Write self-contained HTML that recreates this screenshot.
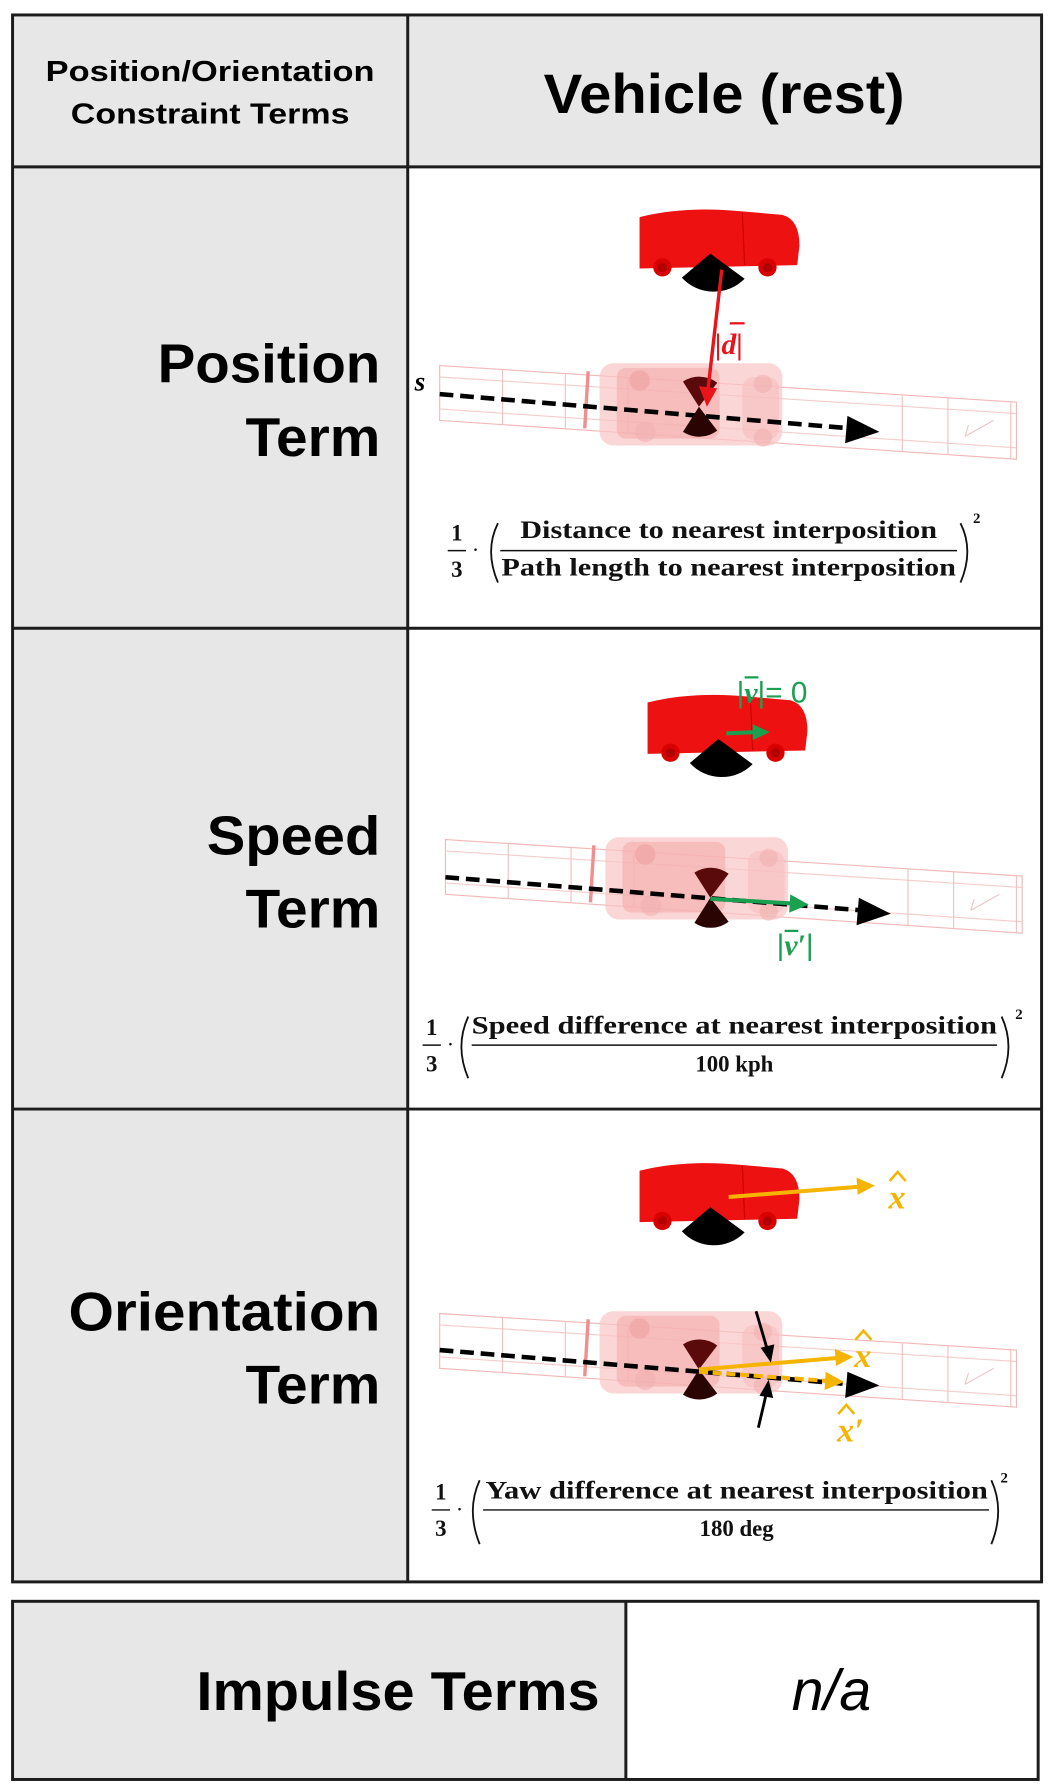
<!DOCTYPE html>
<html><head><meta charset="utf-8"><style>
html,body{margin:0;padding:0;background:#fff;width:1053px;height:1791px;overflow:hidden}
svg{display:block}
.h{font-family:"Liberation Sans",sans-serif;font-weight:bold;fill:#000}
.f{font-family:"Liberation Serif",serif;font-weight:bold;fill:#111}
</style></head><body>
<svg width="1053" height="1791" viewBox="0 0 922 1568" xmlns="http://www.w3.org/2000/svg">
<defs>
<g id="road">
  <path d="M385,320 L890,352 L890,402 L385,368 Z" fill="#fff" stroke="#f2b8b8" stroke-width="1"/>
  <path d="M385,330 L890,362 M385,358 L890,392" stroke="#f6cccc" stroke-width="1"/>
  <path d="M440,323 L440,372 M495,327 L495,375 M550,330 L550,379 M790,346 L790,395 M830,348 L830,398 M885,352 L885,402" stroke="#f2c0c0" stroke-width="1"/>
  <path d="M845,382 L870,368 M845,382 L848,372" stroke="#e8c8c8" stroke-width="1" fill="none"/>
</g>
<g id="ghost">
  <rect x="525" y="318" width="160" height="72" rx="12" fill="#f9c4c4" opacity="0.7"/>
  <rect x="540" y="322" width="90" height="62" rx="8" fill="#f4a8a8" opacity="0.55"/>
  <rect x="650" y="330" width="32" height="55" rx="10" fill="#f7bcbc" opacity="0.6"/>
  <circle cx="560" cy="333" r="9" fill="#eea0a0" opacity="0.6"/>
  <circle cx="565" cy="378" r="9" fill="#f0b0b0" opacity="0.6"/>
  <circle cx="668" cy="336" r="8" fill="#f0b0b0" opacity="0.6"/>
  <circle cx="668" cy="383" r="8" fill="#f0b0b0" opacity="0.6"/>
  <path d="M515,325 L512,375" stroke="#f08f8f" stroke-width="3"/>
</g>
<g id="car">
  <path d="M560,190 Q600,180 650,185 L685,188 Q700,192 700,215 L698,232 L560,235 Z" fill="#ee1111"/>
  <path d="M650,186 L652,232" stroke="#c00" stroke-width="1"/>
  <circle cx="580" cy="234" r="8" fill="#d80000"/><circle cx="672" cy="234" r="8" fill="#d80000"/>
  <circle cx="580" cy="234" r="4" fill="#b00000"/><circle cx="672" cy="234" r="4" fill="#b00000"/>
  <path d="M622,222 L597,243 A38 38 0 0 0 652,244 Z" fill="#000"/>
</g>
<g id="bow">
  <path d="M0,0 L-14,-22 A26 26 0 0 1 16,-21 Z" fill="#5a0a0a"/>
  <path d="M0,0 L-14,22 A26 26 0 0 0 16,21 Z" fill="#2a0303"/>
</g>
</defs>

<rect x="11" y="13" width="346" height="133" fill="#e7e7e7"/>
<rect x="357" y="13" width="555" height="133" fill="#e7e7e7"/>
<rect x="11" y="146" width="346" height="1239" fill="#e7e7e7"/>
<rect x="357" y="146" width="555" height="1239" fill="#fff"/>
<g stroke="#1c1c1c" stroke-width="2.6" fill="none">
<rect x="11" y="13" width="901" height="1372"/>
<path d="M357,13 V1385 M11,146 H912 M11,550 H912 M11,971 H912"/>
</g>

<text class="h" x="184" y="71" font-size="25" text-anchor="middle" textLength="288" lengthAdjust="spacingAndGlyphs">Position/Orientation</text>
<text class="h" x="184" y="108" font-size="25" text-anchor="middle" textLength="244" lengthAdjust="spacingAndGlyphs">Constraint Terms</text>
<text class="h" x="634" y="99" font-size="49" text-anchor="middle" textLength="316" lengthAdjust="spacingAndGlyphs">Vehicle (rest)</text>

<text class="h" x="333" y="335" font-size="48" text-anchor="end" textLength="195" lengthAdjust="spacingAndGlyphs">Position</text>
<text class="h" x="333" y="399" font-size="48" text-anchor="end" textLength="118" lengthAdjust="spacingAndGlyphs">Term</text>
<text class="h" x="333" y="748" font-size="48" text-anchor="end" textLength="152" lengthAdjust="spacingAndGlyphs">Speed</text>
<text class="h" x="333" y="812" font-size="48" text-anchor="end" textLength="118" lengthAdjust="spacingAndGlyphs">Term</text>
<text class="h" x="333" y="1165" font-size="48" text-anchor="end" textLength="273" lengthAdjust="spacingAndGlyphs">Orientation</text>
<text class="h" x="333" y="1229" font-size="48" text-anchor="end" textLength="118" lengthAdjust="spacingAndGlyphs">Term</text>

<!-- Position row -->
<use href="#road"/>
<use href="#ghost"/>
<use href="#car"/>
<path d="M385,345 L745,375" stroke="#000" stroke-width="4" stroke-dasharray="12,6"/>
<path d="M742,364 L770,378 L740,388 Z" fill="#000"/>
<use href="#bow" x="612" y="356"/>
<path d="M632,236 L620,340" stroke="#e8141a" stroke-width="3"/>
<path d="M612,338 L619,356 L628,340 Z" fill="#e8141a"/>
<text x="626" y="310" font-family="Liberation Serif,serif" font-style="italic" font-weight="bold" font-size="26" fill="#e8141a">|d|</text>
<path d="M639,283 L652,283" stroke="#e8141a" stroke-width="2"/>
<text x="363" y="342" font-family="Liberation Serif,serif" font-style="italic" font-weight="bold" font-size="24">s</text>
<text class="f" x="400" y="473" font-size="20" text-anchor="middle">1</text>
<path d="M392,482 L408,482" stroke="#111" stroke-width="1.3"/>
<text class="f" x="400" y="505" font-size="20" text-anchor="middle">3</text>
<text class="f" x="414" y="486" font-size="14">·</text>
<text class="f" x="638" y="471" font-size="22" text-anchor="middle" textLength="365" lengthAdjust="spacingAndGlyphs">Distance to nearest interposition</text>
<path d="M438,482 L838,482" stroke="#111" stroke-width="1.3"/>
<text class="f" x="638" y="504" font-size="22" text-anchor="middle" textLength="398" lengthAdjust="spacingAndGlyphs">Path length to nearest interposition</text>
<path d="M436,458 Q424,482 436,510" stroke="#111" stroke-width="1.6" fill="none"/>
<path d="M841,458 Q853,482 841,510" stroke="#111" stroke-width="1.6" fill="none"/>
<text class="f" x="852" y="458" font-size="13">2</text>

<!-- Speed row -->
<g transform="translate(5,415)"><use href="#road"/><use href="#ghost"/></g>
<g transform="translate(7,425)"><use href="#car"/></g>
<path d="M390,768 L755,797" stroke="#000" stroke-width="4" stroke-dasharray="12,6"/>
<path d="M752,786 L780,800 L750,810 Z" fill="#000"/>
<use href="#bow" x="622" y="786"/>
<path d="M622,787 L695,791" stroke="#1aa050" stroke-width="3.5"/>
<path d="M692,783 L708,792 L691,799 Z" fill="#1aa050"/>
<path d="M636,642 L662,641" stroke="#1aa050" stroke-width="3.5"/>
<path d="M659,634 L674,641 L659,648 Z" fill="#1aa050"/>
<text x="645" y="615" font-family="Liberation Sans,sans-serif" font-size="26" fill="#1aa050">|<tspan font-family="Liberation Serif,serif" font-style="italic" font-weight="bold">v</tspan>|= 0</text>
<path d="M652,593 L664,593" stroke="#1aa050" stroke-width="2"/>
<text x="680" y="836" font-family="Liberation Sans,sans-serif" font-size="26" fill="#1aa050">|<tspan font-family="Liberation Serif,serif" font-style="italic" font-weight="bold">v′</tspan>|</text>
<path d="M687,815 L699,815" stroke="#1aa050" stroke-width="2"/>
<text class="f" x="378" y="906" font-size="20" text-anchor="middle">1</text>
<path d="M370,915 L386,915" stroke="#111" stroke-width="1.3"/>
<text class="f" x="378" y="938" font-size="20" text-anchor="middle">3</text>
<text class="f" x="392" y="919" font-size="14">·</text>
<text class="f" x="643" y="905" font-size="22" text-anchor="middle" textLength="460" lengthAdjust="spacingAndGlyphs">Speed difference at nearest interposition</text>
<path d="M413,915 L873,915" stroke="#111" stroke-width="1.3"/>
<text class="f" x="643" y="938" font-size="20" text-anchor="middle">100 kph</text>
<path d="M410,890 Q398,916 410,944" stroke="#111" stroke-width="1.6" fill="none"/>
<path d="M877,890 Q889,916 877,944" stroke="#111" stroke-width="1.6" fill="none"/>
<text class="f" x="889" y="892" font-size="13">2</text>

<!-- Orientation row -->
<g transform="translate(0,830)"><use href="#road"/><use href="#ghost"/></g>
<g transform="translate(0,835)"><use href="#car"/></g>
<path d="M385,1182 L745,1212" stroke="#000" stroke-width="4" stroke-dasharray="12,6"/>
<path d="M742,1201 L770,1213 L740,1224 Z" fill="#000"/>
<use href="#bow" x="612" y="1199"/>
<path d="M638,1048 L752,1039" stroke="#f5b400" stroke-width="3.5"/>
<path d="M750,1031 L766,1038 L751,1046 Z" fill="#f5b400"/>
<text x="778" y="1058" font-family="Liberation Serif,serif" font-style="italic" font-weight="bold" font-size="30" fill="#f5b400">x</text>
<path d="M779,1034 L786,1026 L793,1034" stroke="#f5b400" stroke-width="2.2" fill="none"/>
<path d="M612,1199 L733,1189" stroke="#f5b400" stroke-width="3.5"/>
<path d="M731,1181 L747,1188 L732,1196 Z" fill="#f5b400"/>
<text x="748" y="1197" font-family="Liberation Serif,serif" font-style="italic" font-weight="bold" font-size="30" fill="#f5b400">x</text>
<path d="M749,1173 L756,1165 L763,1173" stroke="#f5b400" stroke-width="2.2" fill="none"/>
<path d="M612,1201 L725,1209" stroke="#f5b400" stroke-width="3.5" stroke-dasharray="8,4"/>
<path d="M723,1201 L739,1210 L722,1217 Z" fill="#f5b400"/>
<text x="733" y="1262" font-family="Liberation Serif,serif" font-style="italic" font-weight="bold" font-size="30" fill="#f5b400">x′</text>
<path d="M734,1238 L741,1230 L748,1238" stroke="#f5b400" stroke-width="2.2" fill="none"/>
<path d="M662,1148 L672,1182" stroke="#000" stroke-width="2.5"/>
<path d="M666,1180 L675,1193 L678,1177 Z" fill="#000"/>
<path d="M664,1250 L671,1220" stroke="#000" stroke-width="2.5"/>
<path d="M665,1222 L673,1208 L677,1224 Z" fill="#000"/>
<text class="f" x="386" y="1313" font-size="20" text-anchor="middle">1</text>
<path d="M378,1322 L394,1322" stroke="#111" stroke-width="1.3"/>
<text class="f" x="386" y="1345" font-size="20" text-anchor="middle">3</text>
<text class="f" x="400" y="1326" font-size="14">·</text>
<text class="f" x="645" y="1312" font-size="22" text-anchor="middle" textLength="440" lengthAdjust="spacingAndGlyphs">Yaw difference at nearest interposition</text>
<path d="M423,1322 L866,1322" stroke="#111" stroke-width="1.3"/>
<text class="f" x="645" y="1345" font-size="20" text-anchor="middle">180 deg</text>
<path d="M420,1296 Q408,1322 420,1352" stroke="#111" stroke-width="1.6" fill="none"/>
<path d="M868,1296 Q880,1322 868,1352" stroke="#111" stroke-width="1.6" fill="none"/>
<text class="f" x="876" y="1298" font-size="13">2</text>

<!-- Impulse table -->
<rect x="11" y="1402" width="537" height="156" fill="#e7e7e7"/>
<rect x="548" y="1402" width="361" height="156" fill="#fff"/>
<g stroke="#1c1c1c" stroke-width="2.6" fill="none">
<rect x="11" y="1402" width="898" height="156"/>
<path d="M548,1402 V1558"/>
</g>
<text class="h" x="525" y="1497" font-size="48" text-anchor="end" textLength="353" lengthAdjust="spacingAndGlyphs">Impulse Terms</text>
<text x="728" y="1497" font-family="Liberation Sans,sans-serif" font-style="italic" font-size="50" text-anchor="middle">n/a</text>
</svg>
</body></html>
